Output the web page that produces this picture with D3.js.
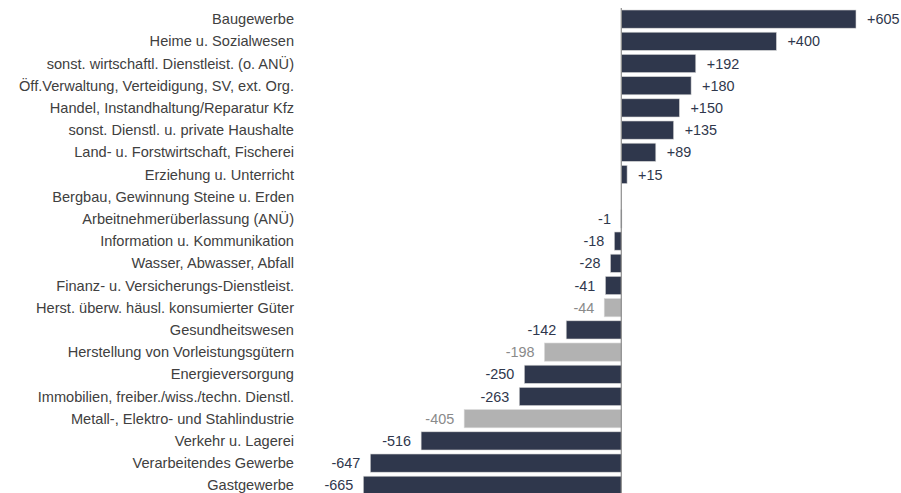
<!DOCTYPE html>
<html>
<head>
<meta charset="utf-8">
<script src="https://cdn.jsdelivr.net/npm/d3@7"></script>
<style>
  body { margin: 0; background: #fff; }
  svg { display: block; font-family: "Liberation Sans", Arial, sans-serif; }
</style>
</head>
<body>
<svg id="chart" width="901" height="493"></svg>
<script>
// categories top to bottom
const categories = [
  "Baugewerbe",
  "Heime u. Sozialwesen",
  "sonst. wirtschaftl. Dienstleist. (o. ANÜ)",
  "Öff.Verwaltung, Verteidigung, SV, ext. Org.",
  "Handel, Instandhaltung/Reparatur Kfz",
  "sonst. Dienstl. u. private Haushalte",
  "Land- u. Forstwirtschaft, Fischerei",
  "Erziehung u. Unterricht",
  "Bergbau, Gewinnung Steine u. Erden",
  "Arbeitnehmerüberlassung (ANÜ)",
  "Information u. Kommunikation",
  "Wasser, Abwasser, Abfall",
  "Finanz- u. Versicherungs-Dienstleist.",
  "Herst. überw. häusl. konsumierter Güter",
  "Gesundheitswesen",
  "Herstellung von Vorleistungsgütern",
  "Energieversorgung",
  "Immobilien, freiber./wiss./techn. Dienstl.",
  "Metall-, Elektro- und Stahlindustrie",
  "Verkehr u. Lagerei",
  "Verarbeitendes Gewerbe",
  "Gastgewerbe"
];
const values = [605, 400, 192, 180, 150, 135, 89, 15, 0, -1, -18, -28, -41, -44, -142, -198, -250, -263, -405, -516, -647, -665];
// grey bars = manufacturing sub-sectors
const highlighted = [false, false, false, false, false, false, false, false, false, false, false, false, false, true, false, true, false, false, true, false, false, false];

const svg = d3.select("#chart");
const navy = "#2f374c", grey = "#b2b2b2";

const x = d3.scaleLinear().domain([-665, 605]).range([363.3, 856]);
const y = d3.scaleBand().domain(categories).range([8, 496.4]).paddingInner(0.18).paddingOuter(0.09);

const rows = categories.map((c, i) => ({ cat: c, val: values[i], hi: highlighted[i] }));

// bars
svg.append("g").selectAll("rect")
  .data(rows.filter(d => d.val !== 0))
  .join("rect")
  .attr("x", d => x(Math.min(0, d.val)))
  .attr("y", d => y(d.cat))
  .attr("width", d => Math.max(1, Math.abs(x(d.val) - x(0))))
  .attr("height", y.bandwidth())
  .attr("fill", d => d.hi ? grey : navy)
  .attr("stroke", "#d9d9d9")
  .attr("stroke-width", 0.6);

// zero axis
svg.append("line")
  .attr("x1", x(0)).attr("x2", x(0))
  .attr("y1", 8).attr("y2", 493)
  .attr("stroke", "#8c8c8c")
  .attr("stroke-width", 1.2);

// category labels
svg.append("g").selectAll("text")
  .data(rows)
  .join("text")
  .attr("x", 294)
  .attr("y", d => y(d.cat) + y.bandwidth() / 2)
  .attr("dy", "0.35em")
  .attr("text-anchor", "end")
  .attr("font-size", 14.6)
  .attr("fill", "#404040")
  .text(d => d.cat);

// value labels
svg.append("g").selectAll("text")
  .data(rows.filter(d => d.val !== 0))
  .join("text")
  .attr("x", d => d.val > 0 ? x(d.val) + 11 : x(d.val) - 10)
  .attr("y", d => y(d.cat) + y.bandwidth() / 2)
  .attr("dy", "0.35em")
  .attr("text-anchor", d => d.val > 0 ? "start" : "end")
  .attr("font-size", 14.4)
  .attr("fill", d => d.hi ? "#8a8a8a" : "#2f374c")
  .text(d => (d.val > 0 ? "+" : "") + d.val);
</script>
</body>
</html>
